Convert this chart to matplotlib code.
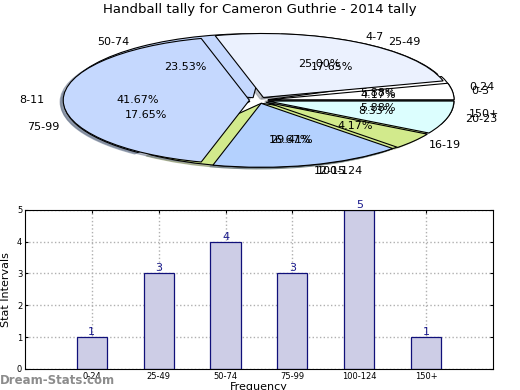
import matplotlib
matplotlib.use("Agg")
import matplotlib.pyplot as plt
import numpy as np

# data
stat_labels = ["0-24", "25-49", "50-74", "75-99", "100-124", "150+"]
stat_counts = [1, 3, 4, 3, 5, 1]
kick_labels = ["0-3", "4-7", "8-11", "12-15", "16-19", "20-23"]
kick_counts = [1, 6, 10, 4, 1, 2]

wedge_colours = ["#ffffff", "#ebf1fe", "#c5d8fe", "#b4d1fe", "#d2ea8c", "#dcfefe"]

fig = plt.figure(figsize=(5.2, 3.9), dpi=100)

# ---------------------------------------------------------------------------
# Pie (two overlapping pies, squashed)
# ---------------------------------------------------------------------------
ax_pie = fig.add_axes([0.05, 0.538, 0.895, 0.41])
for labels, counts in [(stat_labels, stat_counts), (kick_labels, kick_counts)]:
    wedges, texts, autotexts = ax_pie.pie(
        counts, labels=labels, colors=wedge_colours,
        explode=[0.05] * len(counts), autopct="%.2f%%",
        shadow=dict(ox=-0.012, oy=-0.018, shade=0.45),
        startangle=0, counterclock=True,
        wedgeprops=dict(edgecolor="black", linewidth=0.8),
        textprops=dict(fontsize=8),
    )
ax_pie.set_aspect("auto")
ax_pie.set_xlim(-1.25, 1.25)
ax_pie.set_ylim(-1.25, 1.25)
ax_pie.axis("off")

fig.text(0.5, 1 - 10 / 390, "Handball tally for Cameron Guthrie - 2014 tally",
         ha="center", va="center", fontsize=9.5)

# ---------------------------------------------------------------------------
# Bar chart
# ---------------------------------------------------------------------------
ax = fig.add_axes([0.048, 0.054, 0.9, 0.408])
x = np.arange(len(stat_labels))
bars = ax.bar(x, stat_counts, width=0.45, color="#cdcde6",
              edgecolor="#10107a", linewidth=0.9, zorder=2)
for xi, v in zip(x, stat_counts):
    ax.text(xi, v, str(v), ha="center", va="bottom", fontsize=8,
            color="#1a1a8c", zorder=3)

ax.set_xlim(-1, len(stat_labels))
ax.set_ylim(0, 5)
ax.set_xticks(x)
ax.set_xticklabels(stat_labels)
ax.set_yticks(range(0, 6))
ax.tick_params(labelsize=6, direction="in", length=2, top=True, right=True,
               pad=2)
ax.grid(True, color="#b0b0b0", linestyle=":", linewidth=1, zorder=0)
ax.set_ylabel("Stat Intervals", fontsize=8, labelpad=4)
ax.set_xlabel("Frequency", fontsize=8, labelpad=1)

fig.text(0.0, 9 / 390, "Dream-Stats.com", ha="left", va="center",
         fontsize=8.5, color="#8c8c8c", fontweight="semibold")

fig.savefig("out.png", dpi=100)
